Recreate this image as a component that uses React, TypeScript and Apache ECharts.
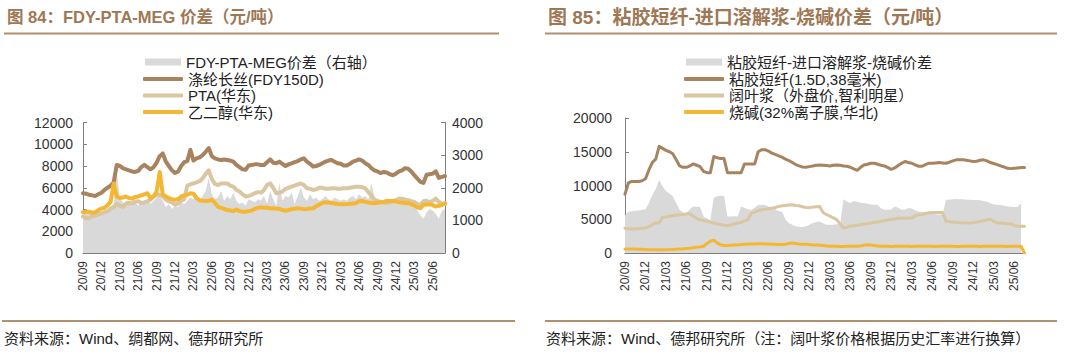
import React, { useEffect, useRef } from "react";
import * as echarts from "echarts";

// Quarter tick labels (month offsets 0,3,6,... from 2020-09)
const quarterLabels = [
  "20/09", "20/12", "21/03", "21/06", "21/09", "21/12", "22/03", "22/06", "22/09", "22/12",
  "23/03", "23/06", "23/09", "23/12", "24/03", "24/06", "24/09", "24/12", "25/03", "25/06",
];

// ---- Figure 84 (semi-monthly, from 2020-09) ----
const fdyPrice = [
  5500, 5450, 5350, 5300, 5250, 5400, 5550, 5800, 6000, 6200,
  6500, 8100, 8000, 7800, 7700, 7600, 7500, 7450, 7550, 7900,
  8100, 7900, 7700, 7900, 8300, 8900, 9150, 8400, 8000, 7600,
  7350, 7500, 8000, 8350, 8450, 9500, 8500, 8700, 8800, 9000,
  9300, 9650, 8900, 8700, 8600, 8550, 8600, 8550, 8500, 8400,
  8100, 7900, 7700, 7650, 8050, 8100, 8150, 8150, 8100, 8100,
  8350, 8600, 8300, 8250, 8400, 8200, 8000, 8150, 8250, 8350,
  8450, 8600, 8700, 8400, 8200, 7950, 8000, 8100, 8250, 8400,
  8500, 8550, 8400, 8250, 8200, 8050, 8050, 8200, 8400, 8500,
  8600, 8500, 8250, 8100, 7800, 7600, 7500, 7350, 7450, 7400,
  7250, 7150, 7300, 7500, 7600, 7800, 7750, 7500, 7150, 6850,
  6550, 6450, 7200, 7250, 7300, 7500, 6900, 7000, 7080,
];
const ptaPrice = [
  3350, 3200, 3200, 3400, 3450, 3550, 3650, 3750, 3850, 4100,
  4200, 4500, 4350, 4250, 4550, 4600, 4550, 4700, 4750, 4600,
  4650, 4750, 4900, 5200, 5350, 5350, 5200, 4900, 4750, 4650,
  4450, 4550, 4800, 4950, 6200, 6300, 6400, 6500, 6600, 6850,
  7300, 7600, 6800, 6350, 6250, 6400, 6400, 6400, 6200, 6100,
  5800, 5650, 5400, 5200, 5250, 5350, 5500, 5600, 5550, 5800,
  6250, 6400, 6000, 5500, 5550, 5650, 5900, 6000, 6100, 6200,
  6300, 6400, 6250, 5950, 5900, 5800, 5850, 6000, 6000, 5900,
  5900, 5950, 5950, 5900, 5900, 5950, 5950, 6000, 6050, 6100,
  6100, 6050, 5950, 5600, 5300, 4900, 4800, 4700, 4650, 4600,
  4650, 4750, 4850, 5000, 5000, 4900, 4850, 4750, 4700, 4500,
  4450, 4750, 4800, 4650, 4800, 5000, 4700, 4550, 4500,
];
const megPrice = [
  3750, 3800, 3800, 3700, 3750, 3950, 4100, 4150, 4400, 4700,
  6400, 5200, 5050, 5100, 5200, 5050, 5000, 5150, 5200, 5300,
  5400, 5500, 5050, 5200, 5650, 7450, 5400, 5200, 5050, 4950,
  4900, 4950, 5200, 5300, 5350, 5500, 5450, 5050, 4850, 4800,
  4780, 4800, 4900, 4600, 4250, 4150, 4050, 3950, 3900, 3850,
  4000, 3850, 3800, 3800, 3850, 3900, 4050, 4150, 4200, 4150,
  4180, 4100, 4120, 4080, 4060, 3950, 3880, 3950, 4030, 4080,
  4120, 4080, 4030, 4050, 4100, 4120, 4300, 4450, 4600, 4670,
  4650, 4600, 4550, 4500, 4490, 4490, 4500, 4520, 4550, 4600,
  4750, 4780, 4700, 4650, 4600, 4580, 4620, 4670, 4700, 4780,
  4790, 4780, 4750, 4670, 4650, 4600, 4580, 4500, 4370, 4200,
  4120, 4430, 4450, 4490, 4400, 4270, 4350, 4400, 4580,
];
const fdySpread = [
  1250, 1350, 1200, 1300, 1250, 1350, 1250, 1300, 1350, 1400,
  1500, 2500, 1700, 1550, 1450, 1600, 1500, 1550, 1450, 1600,
  1550, 1650, 1500, 1600, 1700, 1750, 1600, 1400, 1500, 1350,
  1450, 1400, 1550, 1500, 1600, 1700, 1650, 1800, 1600, 1750,
  1900, 2300, 1800, 1650, 1700, 1900, 1600, 1750, 1650, 1850,
  1600, 1500, 1550, 1450, 1650, 1600, 1550, 1650, 1600, 1750,
  1500, 1900, 1650, 1450, 2150, 1600, 1750, 1700, 1850, 1500,
  1750, 2000, 1700, 1600, 1800, 1650, 1700, 1600, 1650, 1750,
  1650, 1600, 1700, 1650, 1600, 1650, 1600, 1700, 1750, 1650,
  1800, 1700, 1750, 1650, 2150, 1700, 1650, 1550, 1600, 1550,
  1600, 1550, 1650, 1600, 1550, 1600, 1500, 1550, 1450, 1300,
  1150, 1050, 1250, 1350, 1300, 1200, 1050, 1300, 1350,
];

// ---- Figure 85 (semi-monthly, from 2020-09) ----
const viscosePrice = [
  8700, 10400, 10600, 10600, 10600, 10700, 11000, 12300, 13400, 13900,
  15800, 15500, 15200, 15000, 14700, 13800, 12900, 12700, 12700, 12900,
  13200, 13000, 12800, 12100, 11900, 11900, 14300, 14100, 14000, 14000,
  11900, 11900, 11900, 11900, 11900, 13200, 13200, 13200, 13200, 15000,
  15300, 15300, 15100, 14800, 14600, 14400, 14200, 13900, 13700, 13400,
  13100, 12900, 12750, 12700, 12800, 12900, 13000, 13050, 13000, 12950,
  12900, 13000, 13050, 13000, 12900, 12850, 12700, 12450, 12250, 12700,
  13050, 13150, 13300, 13300, 13150, 13000, 12900, 12650, 12400, 12600,
  12950, 13300, 13550, 13400, 13300, 13050, 12850, 12850, 13100, 13300,
  13300, 13350, 13400, 13350, 13300, 13450, 13650, 13800, 13800, 13800,
  13750, 13650, 13550, 13600, 13750, 13800, 13650, 13400, 13250, 13100,
  12900, 12750, 12550, 12500, 12550, 12600, 12650, 12650,
];
const pulpPrice = [
  3650, 3600, 3550, 3550, 3600, 3650, 3700, 3900, 4200, 4450,
  4450, 5300, 5350, 5450, 5550, 5600, 5650, 5700, 5800, 5800,
  5450, 5100, 4950, 4800, 4700, 4550, 4450, 4300, 4200, 4100,
  4050, 4150, 4300, 4450, 4550, 4750, 4950, 5900, 6050, 6300,
  6400, 6500, 6550, 6650, 6750, 6900, 7000, 7050, 7100, 7150,
  7050, 7000, 6850, 6750, 6700, 6800, 6850, 6900, 6000, 5700,
  5450, 5200, 4950, 4300, 3700, 3800, 4000, 4050, 4100, 4200,
  4300, 4350, 4450, 4550, 4600, 4700, 4800, 4900, 5000, 5050,
  5150, 5150, 5150, 5150, 5200, 5500, 5650, 5700, 5850, 5950,
  6000, 6000, 6000, 6000, 4700, 4650, 4550, 4550, 4500, 4500,
  4450, 4450, 4500, 4600, 4700, 4800, 4900, 5000, 4700, 4450,
  4450, 4400, 4350, 4350, 4100, 3950, 3950, 3950,
];
const causticPrice = [
  600, 600, 600, 580, 560, 540, 520, 500, 500, 500,
  500, 500, 500, 500, 520, 550, 580, 600, 650, 700,
  780, 850, 900, 1000, 1400, 1750, 1900, 1500, 1200, 1100,
  1100, 1150, 1200, 1200, 1250, 1300, 1330, 1350, 1350, 1380,
  1380, 1350, 1330, 1300, 1280, 1250, 1250, 1300, 1400, 1480,
  1400, 1330, 1300, 1280, 1250, 1200, 1180, 1150, 1100, 1050,
  1000, 1000, 1000, 980, 980, 1000, 1000, 990, 1000, 1050,
  1150, 1230, 1200, 1100, 1050, 1000, 1000, 990, 980, 990,
  1000, 1000, 990, 990, 980, 990, 1000, 1000, 990, 990,
  990, 980, 990, 1000, 1000, 990, 990, 980, 980, 990,
  990, 1000, 990, 990, 980, 990, 990, 1000, 990, 990,
  990, 990, 980, 990, 990, 990, 990, 0,
];
const viscoseSpread = [
  5600, 6100, 6200, 6250, 6300, 6400, 6500, 7400, 8600, 9500,
  10800, 9900, 9200, 8800, 8400, 7400, 6400, 6000, 5900, 6500,
  6900, 6850, 6800, 5400, 5100, 4900, 8200, 8400, 8500, 8450,
  5400, 5400, 5450, 5400, 6900, 6700, 6500, 6400, 6700, 7100,
  7150, 7100, 6900, 6650, 6500, 6200, 6100, 5000, 4400, 4200,
  3950, 3850, 3850, 3950, 4200, 4450, 4600, 4650, 4400, 4200,
  4200, 4200, 4250, 4300, 7950, 7600, 7400, 7700, 7600, 7450,
  7400, 7300, 7200, 7150, 7100, 6600, 6400, 6400, 6450, 6900,
  6700, 6400, 6400, 6650, 6600, 6300, 6150, 6100, 6000, 5900,
  5850, 5750, 5700, 5650, 7900, 7900, 7950, 8000, 7950, 7950,
  7900, 7900, 7850, 7850, 7800, 7700, 7600, 7400, 7200, 7150,
  7100, 7000, 6900, 6850, 6800, 6800, 7400,
];

const names84 = ["FDY-PTA-MEG价差（右轴）", "涤纶长丝(FDY150D)", "PTA(华东)", "乙二醇(华东)"];
const names85 = ["粘胶短纤-进口溶解浆-烧碱价差", "粘胶短纤(1.5D,38毫米)", "阔叶浆（外盘价,智利明星）", "烧碱(32%离子膜,华北)"];

const COLORS = { gray: "#d9d9d9", brown: "#a8835f", tan: "#dac6a0", orange: "#f5b732" };
const FONT = "'Liberation Sans', 'Noto Sans CJK SC', sans-serif";
const AXIS_GRAY = "#7f7f7f";
const LABEL = "#333333";
const TITLE = "#9e7755";
const RULE = "#b0906f";

const toPairs = (arr: number[]) => arr.map((v, i) => [i / 2, v]);
const tickVals = quarterLabels.map((_, i) => i * 3);

function xAxisCfg(gridIndex: number, max: number) {
  return {
    type: "value",
    gridIndex,
    min: 0,
    max,
    interval: 3,
    axisLine: { show: true, lineStyle: { color: AXIS_GRAY, width: 1 } },
    axisTick: { show: true, inside: true, length: 4, customValues: tickVals, lineStyle: { color: AXIS_GRAY } },
    axisLabel: {
      customValues: tickVals,
      formatter: (v: number) => quarterLabels[Math.round(v / 3)] ?? "",
      rotate: 90,
      fontSize: 12,
      color: LABEL,
      margin: 8,
      fontFamily: FONT,
    },
    splitLine: { show: false },
  };
}

function yAxisCfg(gridIndex: number, max: number, interval: number, position: string, margin: number) {
  return {
    type: "value",
    gridIndex,
    min: 0,
    max,
    interval,
    position,
    axisLine: { show: true, lineStyle: { color: AXIS_GRAY, width: 1 } },
    axisTick: { show: true, inside: true, length: 4, lineStyle: { color: AXIS_GRAY } },
    axisLabel: { fontSize: 14, color: LABEL, margin, fontFamily: FONT, formatter: (v: number) => String(v) },
    splitLine: { show: false },
  };
}

function areaSeries(name: string, data: number[], xi: number, yi: number) {
  return {
    name,
    type: "line",
    xAxisIndex: xi,
    yAxisIndex: yi,
    data: toPairs(data),
    symbol: "none",
    color: COLORS.gray,
    lineStyle: { width: 0, opacity: 0 },
    areaStyle: { color: COLORS.gray, opacity: 1 },
    z: 1,
  };
}

function lineSeries(name: string, data: number[], xi: number, yi: number, color: string, width: number) {
  return {
    name,
    type: "line",
    xAxisIndex: xi,
    yAxisIndex: yi,
    data: toPairs(data),
    symbol: "none",
    color,
    lineStyle: { width, color, cap: "round", join: "round" },
    z: 3,
  };
}

function legendItem(name: string, left: number, top: number, isArea: boolean) {
  return {
    orient: "vertical",
    left: isArea ? left + 2 : left,
    top,
    padding: 0,
    itemGap: 0,
    itemWidth: isArea ? 36 : 40,
    itemHeight: isArea ? 7 : 4,
    textStyle: { fontSize: 15, color: "#222", fontFamily: FONT },
    data: [{ name, icon: isArea ? "rect" : "roundRect" }],
  };
}

const legendTops = [54.5, 71.5, 88, 104.5];

export default function App() {
  const ref = useRef<HTMLDivElement>(null);

  useEffect(() => {
    if (!ref.current) return;
    const chart = echarts.init(ref.current, null, { renderer: "svg" });
    const option = {
      animation: false,
      backgroundColor: "#ffffff",
      grid: [
        { left: 83, top: 122.5, width: 362, height: 130.5 },
        { left: 625, top: 118, width: 399.5, height: 135 },
      ],
      xAxis: [xAxisCfg(0, 59), xAxisCfg(1, 58.5)],
      yAxis: [
        yAxisCfg(0, 12000, 2000, "left", 10),
        yAxisCfg(0, 4000, 1000, "right", 7),
        yAxisCfg(1, 20000, 5000, "left", 13),
      ],
      legend: [
        ...names84.map((n, i) => legendItem(n, 143, legendTops[i], i === 0)),
        ...names85.map((n, i) => legendItem(n, 684, legendTops[i], i === 0)),
      ],
      series: [
        areaSeries(names84[0], fdySpread, 0, 1),
        lineSeries(names84[1], fdyPrice, 0, 0, COLORS.brown, 4),
        lineSeries(names84[2], ptaPrice, 0, 0, COLORS.tan, 4),
        lineSeries(names84[3], megPrice, 0, 0, COLORS.orange, 4),
        areaSeries(names85[0], viscoseSpread, 1, 2),
        lineSeries(names85[1], viscosePrice, 1, 2, COLORS.brown, 3),
        lineSeries(names85[2], pulpPrice, 1, 2, COLORS.tan, 3),
        lineSeries(names85[3], causticPrice, 1, 2, COLORS.orange, 3),
      ],
      graphic: [
        {
          type: "text", x: 7, y: 17,
          style: { text: "图 84：FDY-PTA-MEG 价差（元/吨）", fill: TITLE, fontSize: 16.5, fontWeight: "bold", fontFamily: FONT, verticalAlign: "middle" },
        },
        {
          type: "text", x: 548, y: 17,
          style: { text: "图 85：粘胶短纤-进口溶解浆-烧碱价差（元/吨）", fill: TITLE, fontSize: 19, fontWeight: "bold", fontFamily: FONT, verticalAlign: "middle" },
        },
        { type: "line", shape: { x1: 4, y1: 33.5, x2: 499, y2: 33.5 }, style: { stroke: RULE, lineWidth: 2 } },
        { type: "line", shape: { x1: 545, y1: 33.5, x2: 1057, y2: 33.5 }, style: { stroke: RULE, lineWidth: 2 } },
        { type: "line", shape: { x1: 2, y1: 321, x2: 515, y2: 321 }, style: { stroke: RULE, lineWidth: 2 } },
        { type: "line", shape: { x1: 545, y1: 321, x2: 1057, y2: 321 }, style: { stroke: RULE, lineWidth: 2 } },
        {
          type: "text", x: 4, y: 338,
          style: { text: "资料来源：Wind、绸都网、德邦研究所", fill: "#222", fontSize: 15, fontFamily: FONT, verticalAlign: "middle" },
        },
        {
          type: "text", x: 546, y: 338,
          style: { text: "资料来源：Wind、德邦研究所（注：阔叶浆价格根据历史汇率进行换算）", fill: "#222", fontSize: 15, fontFamily: FONT, verticalAlign: "middle" },
        },
      ],
    };
    chart.setOption(option as any);
    return () => chart.dispose();
  }, []);

  return (
    <div
      ref={ref}
      style={{ position: "absolute", left: 0, top: 0, width: 1075, height: 358, background: "#fff" }}
    />
  );
}
